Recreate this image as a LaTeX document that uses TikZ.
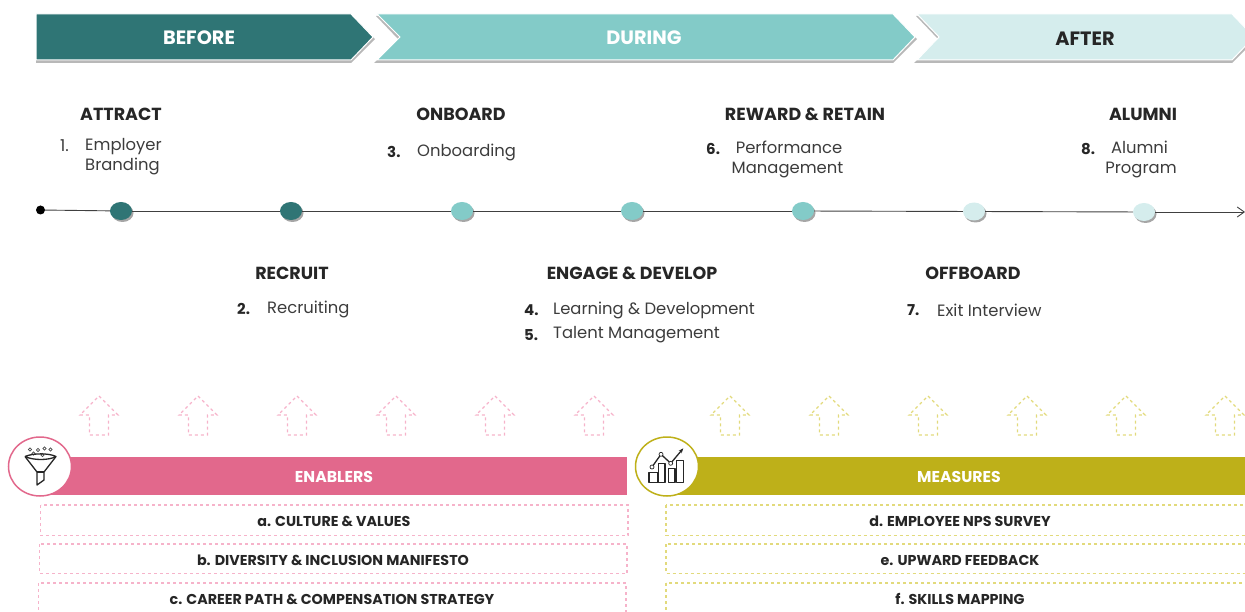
\documentclass[tikz,border=0pt]{standalone}
\usepackage{fontspec}
\setmainfont{Poppins}
\usetikzlibrary{positioning, arrows.meta, shapes.geometric}

\definecolor{tealdark}{HTML}{2F7575}
\definecolor{tealmid}{HTML}{83CBC8}
\definecolor{teallight}{HTML}{D5EDED}
\definecolor{enabpink}{HTML}{E2688C}
\definecolor{enabdash}{HTML}{F6B3CA}
\definecolor{measolive}{HTML}{BEB019}
\definecolor{measdash}{HTML}{E2DA7C}
\definecolor{inktext}{HTML}{262626}

\begin{document}
\begin{tikzpicture}[
  x=1pt, y=-1pt,
  phaselabel/.style={font=\fontsize{19.3}{21}\selectfont\bfseries},
  phaseshadow/.style={fill=black!28, draw=none},
  stagelabel/.style={font=\fontsize{17.5}{19}\selectfont\bfseries, text=inktext, inner sep=0pt},
  itemtext/.style={font=\fontsize{16.4}{20}\selectfont, text=inktext!90, inner sep=0pt},
  itemnum/.style={font=\fontsize{15}{20}\selectfont\bfseries, text=inktext, inner sep=0pt},
  stagedot/.style={ellipse, minimum width=22pt, minimum height=18pt, inner sep=0pt},
  dotshadow/.style={ellipse, minimum width=22pt, minimum height=18pt, inner sep=0pt, fill=black!35},
  timeline/.style={draw=black!75, line width=.9pt},
  dashline/.style={dashed, line width=1.1pt},
  bandlabel/.style={font=\fontsize{15.7}{17}\selectfont\bfseries, text=white, inner sep=0pt},
  listlabel/.style={font=\fontsize{14.3}{16}\selectfont\bfseries, text=inktext, inner sep=0pt},
  iconring/.style={ellipse, minimum width=63pt, minimum height=59pt, inner sep=0pt, fill=white, line width=1.5pt},
  iconline/.style={draw=black!85, line width=1.3pt, line join=round},
  ]
  \useasboundingbox (0,0) rectangle (1245,612);

  % phase chevrons
  \fill[phaseshadow] (36,16) -- (351,16) -- (375,39) -- (351,63) -- (36,63) -- cycle;
  \fill[phaseshadow] (376,16) -- (893,16) -- (917,39) -- (893,63) -- (374,63) -- (398,39) -- cycle;
  \fill[phaseshadow] (916,16) -- (1232,16) -- (1256,39) -- (1232,63) -- (914,63) -- (938,39) -- cycle;
  \draw[white, fill=tealdark, line width=1pt] (36,14) -- (351,14) -- (373,37) -- (351,60) -- (36,60) -- cycle;
  \draw[white, fill=tealmid, line width=1pt] (377,14) -- (893,14) -- (915,37) -- (893,60) -- (377,60) -- (400,37) -- cycle;
  \draw[white, fill=teallight, line width=1pt] (917,14) -- (1232,14) -- (1254,37) -- (1232,60) -- (917,60) -- (939,37) -- cycle;

  \node[phaselabel, text=white] (before) at (199,38) {BEFORE};
  \node[phaselabel, text=white] (during) at (644,38) {DURING};
  \node[phaselabel, text=inktext] (after) at (1085,39) {AFTER};

  % timeline
  \foreach \dx/\dy [count=\di] in {121/211, 291/211, 462/211, 632/211, 803/211, 974/211.5, 1144/212}
    \node[dotshadow] (shade\di) at (\dx+1.5,\dy+2) {};
  \node[circle, fill=black, inner sep=0pt, minimum size=9pt] (start) at (40.5,210) {};
  \node[stagedot, fill=tealdark] (dot1) at (121,211) {};
  \node[stagedot, fill=tealdark] (dot2) at (291,211) {};
  \node[stagedot, fill=tealmid] (dot3) at (462,211) {};
  \node[stagedot, fill=tealmid] (dot4) at (632,211) {};
  \node[stagedot, fill=tealmid] (dot5) at (803,211) {};
  \node[stagedot, fill=teallight] (dot6) at (974,211.5) {};
  \node[stagedot, fill=teallight] (dot7) at (1144,212) {};
  \coordinate (end) at (1245,212);

  \draw[timeline] (start) -- (dot1);
  \draw[timeline] (dot1) -- (dot2);
  \draw[timeline] (dot2) -- (dot3);
  \draw[timeline] (dot3) -- (dot4);
  \draw[timeline] (dot4) -- (dot5);
  \draw[timeline] (dot5) -- (dot6);
  \draw[timeline] (dot6) -- (dot7);
  \draw[timeline, -{Straight Barb[length=7pt, width=10pt]}] (dot7) -- (end);

  % stages above the line
  \node[stagelabel] (attract) at (121,114) {ATTRACT};
  \node[itemtext, anchor=west, align=left] (employer) at (85,156.5) {Employer\\Branding};
  \node[itemtext, anchor=west] (num1) at (60,146) {1.};

  \node[stagelabel] (onboard) at (461,114) {ONBOARD};
  \node[itemtext, anchor=west] (onboarding) at (417,152) {Onboarding};
  \node[itemnum, anchor=west] (num3) at (387,152) {3.};

  \node[stagelabel] (reward) at (805,114) {REWARD \& RETAIN};
  \node[itemtext, align=center] (performance) at (787.5,159.5) {\hspace*{3pt}Performance\\Management};
  \node[itemnum, anchor=west] (num6) at (706,149) {6.};

  \node[stagelabel] (alumni) at (1143,114) {ALUMNI};
  \node[itemtext, align=center] (program) at (1141,159.5) {\hspace*{-3pt}Alumni\\Program};
  \node[itemnum, anchor=west] (num8) at (1081,149) {8.};

  % stages below the line
  \node[stagelabel] (recruit) at (292,273) {RECRUIT};
  \node[itemtext, anchor=west] (recruiting) at (267,309) {Recruiting};
  \node[itemnum, anchor=west] (num2) at (237,309) {2.};

  \node[stagelabel] (engage) at (632,273) {ENGAGE \& DEVELOP};
  \node[itemtext, anchor=west] (learning) at (553,310) {Learning \& Development};
  \node[itemnum, anchor=west] (num4) at (524,310) {4.};
  \node[itemtext, anchor=west] (talent) at (553,335) {Talent Management};
  \node[itemnum, anchor=west] (num5) at (524,335) {5.};

  \node[stagelabel] (offboard) at (973,273) {OFFBOARD};
  \node[itemtext, anchor=west] (exit) at (937,310) {Exit Interview};
  \node[itemnum, anchor=west] (num7) at (907,310) {7.};

  % dashed up arrows
  \foreach \ax in {99,198,297,396,495,594}
    \draw[enabdash, dashline, shift={(\ax,0)}]
      (0,396) -- (19,415) -- (9.5,415) -- (9.5,435) -- (-9.5,435) -- (-9.5,415) -- (-19,415) -- cycle;
  \foreach \ax in {730,829,928,1027,1126,1225}
    \draw[measdash, dashline, shift={(\ax,0)}]
      (0,396) -- (19,415) -- (9.5,415) -- (9.5,435) -- (-9.5,435) -- (-9.5,415) -- (-19,415) -- cycle;

  % enablers
  \fill[enabpink] (40,457) rectangle (627,495);
  \node[iconring, draw=enabpink] (enabicon) at (40,466.5) {};
  \node[bandlabel] (enablers) at (334,477) {ENABLERS};
  \foreach \bx/\by in {30/449.5, 38/450, 44.5/448.5, 50.5/449.5, 33.5/453.5, 42.5/455}
    \draw[black!70, line width=.7pt] (\bx,\by) circle (1.7);
  \draw[iconline] (25,456.5) .. controls (33,453) and (49,453) .. (56,456.5) .. controls (49,460.5) and (33,460.5) .. (25,456.5);
  \draw[iconline] (25,456.5) -- (37,472) -- (37,485) -- (44,480) -- (44,472) -- (56,456.5);
  \draw[iconline] (37,472) -- (44,472);

  \draw[enabdash, dashline] (40.5,505) rectangle (628,535.5);
  \draw[enabdash, dashline] (39.5,544) rectangle (627,573.5);
  \draw[enabdash, dashline] (38.5,583) rectangle (626,625);
  \node[listlabel] (culture) at (334,521) {a. CULTURE \& VALUES};
  \node[listlabel] (diversity) at (333,560) {b. DIVERSITY \& INCLUSION MANIFESTO};
  \node[listlabel] (career) at (332,599) {c. CAREER PATH \& COMPENSATION STRATEGY};

  % measures
  \fill[measolive] (667,457) rectangle (1250,495);
  \node[iconring, draw=measolive] (measicon) at (667,466.5) {};
  \node[bandlabel] (measures) at (959,477) {MEASURES};
  \draw[iconline] (649,472.7) rectangle (658,482.5);
  \draw[iconline] (658.3,463.3) rectangle (665,482.5);
  \draw[iconline] (668.3,468.3) rectangle (675,482.5);
  \draw[iconline] (676.7,460.3) rectangle (683.3,482.5);
  \draw[iconline, -{Stealth[length=5pt]}] (652,467) -- (661,454.3) -- (670.7,463.3) -- (683.3,448.3);
  \foreach \cx/\cy in {652/467, 661/454.3, 670.7/463.3}
    \draw[black!85, fill=white, line width=.7pt] (\cx,\cy) circle (2);

  \draw[measdash, dashline] (666,505) rectangle (1260,535.5);
  \draw[measdash, dashline] (666,544) rectangle (1260,573.5);
  \draw[measdash, dashline] (666,583) rectangle (1260,625);
  \node[listlabel] (nps) at (960,521) {d. EMPLOYEE NPS SURVEY};
  \node[listlabel] (upward) at (960,560) {e. UPWARD FEEDBACK};
  \node[listlabel] (skills) at (960,599) {f. SKILLS MAPPING};
\end{tikzpicture}
\end{document}
